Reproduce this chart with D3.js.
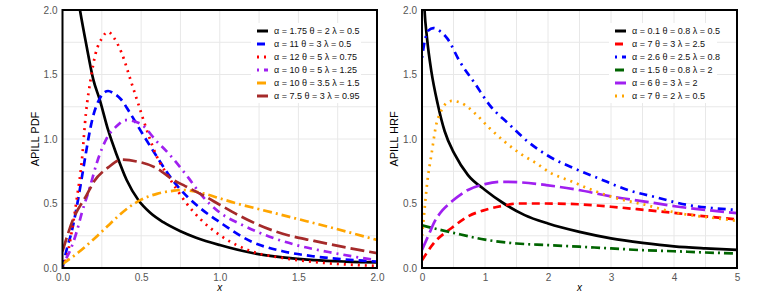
<!DOCTYPE html>
<html>
<head>
<meta charset="utf-8">
<script src="https://cdn.jsdelivr.net/npm/d3@7"></script>
<style>
  body { margin: 0; background: #fff; }
  svg { display: block; font-family: "Liberation Sans", Arial, sans-serif; }
  .grid line { stroke: #e8e8e8; stroke-width: 1; }
  .tick text { fill: #555; font-size: 10px; }
  .legend text { font-size: 9px; fill: #111; }
</style>
</head>
<body>
<svg id="chart" width="779" height="294"></svg>
<script>
// ---- left panel (PDF) ----
var pdfBlack = [[0.1, 2.08], [0.111, 2.0], [0.15, 1.74], [0.196, 1.46], [0.238, 1.30], [0.29, 1.07], [0.345, 0.876],
    [0.408, 0.682], [0.482, 0.527], [0.556, 0.43], [0.641, 0.355], [0.75, 0.285], [0.85, 0.235], [1.0, 0.178],
    [1.2, 0.118], [1.4, 0.083], [1.6, 0.061], [1.8, 0.05], [2.0, 0.044]];
var pdfBlue = [[0, 0], [0.03, 0.16], [0.06, 0.29], [0.09, 0.47], [0.12, 0.68], [0.15, 0.9], [0.18, 1.1], [0.2, 1.2],
    [0.22, 1.27], [0.25, 1.34], [0.29, 1.372], [0.33, 1.35], [0.37, 1.31], [0.43, 1.2], [0.514, 1.03], [0.6, 0.863],
    [0.684, 0.708], [0.8, 0.545], [0.88, 0.46], [1.0, 0.355], [1.2, 0.205], [1.4, 0.13], [1.6, 0.09], [1.8, 0.066],
    [2.0, 0.05]];
var pdfRed = [[0, 0], [0.03, 0.1], [0.06, 0.29], [0.09, 0.53], [0.122, 0.82], [0.149, 1.2], [0.18, 1.47], [0.21, 1.66],
    [0.25, 1.78], [0.29, 1.83], [0.33, 1.78], [0.375, 1.67], [0.44, 1.43], [0.48, 1.28], [0.514, 1.15], [0.556, 1.0],
    [0.6, 0.863], [0.663, 0.73], [0.726, 0.61], [0.78, 0.515], [0.88, 0.375], [1.0, 0.255], [1.2, 0.13], [1.4, 0.078],
    [1.6, 0.046], [1.8, 0.028], [2.0, 0.016]];
var pdfPurple = [[0, 0.03], [0.05, 0.14], [0.09, 0.28], [0.122, 0.424], [0.175, 0.63], [0.217, 0.81], [0.281, 1.005],
    [0.345, 1.10], [0.4, 1.147], [0.493, 1.12], [0.6, 0.98], [0.673, 0.89], [0.8, 0.70], [0.88, 0.57], [1.0, 0.43],
    [1.14, 0.335], [1.29, 0.255], [1.48, 0.18], [1.73, 0.115], [2.0, 0.06]];
var pdfOrange = [[0, 0.03], [0.1, 0.12], [0.2, 0.225], [0.3, 0.34], [0.4, 0.45], [0.5, 0.53], [0.6, 0.575],
    [0.7, 0.598], [0.76, 0.605], [0.82, 0.598], [0.9, 0.577], [1.0, 0.54], [1.1, 0.503], [1.27, 0.45], [1.48, 0.385],
    [1.73, 0.307], [2.0, 0.217]];
var pdfBrown = [[0, 0.13], [0.07, 0.385], [0.154, 0.566], [0.2, 0.67], [0.291, 0.78], [0.376, 0.84], [0.472, 0.826],
    [0.6, 0.773], [0.705, 0.682], [0.78, 0.635], [0.9, 0.56], [1.0, 0.49], [1.2, 0.36], [1.4, 0.265], [1.6, 0.21],
    [1.8, 0.16], [2.0, 0.115]];

// ---- right panel (HRF) ----
var hrfBlack = [[0.03, 2.1], [0.04, 2.0], [0.08, 1.78], [0.15, 1.52], [0.25, 1.27], [0.36, 1.06], [0.52, 0.88], [0.73, 0.72],
    [1.0, 0.605], [1.3, 0.50], [1.63, 0.41], [2.0, 0.345], [2.5, 0.28], [3.0, 0.23], [3.5, 0.195], [4.0, 0.168],
    [4.5, 0.152], [5.0, 0.14]];
var hrfRed = [[0, 0.06], [0.2, 0.20], [0.47, 0.31], [0.73, 0.40], [1.0, 0.45], [1.26, 0.48], [1.52, 0.50], [1.97, 0.50],
    [2.48, 0.494], [3.0, 0.475], [3.54, 0.45], [4.07, 0.424], [4.5, 0.40], [5.0, 0.377]];
var hrfBlue = [[0, 1.63], [0.04, 1.75], [0.1, 1.84], [0.18, 1.86], [0.3, 1.83], [0.4, 1.78], [0.6, 1.60], [0.84, 1.43],
    [1.07, 1.265], [1.37, 1.12], [1.68, 0.98], [2.0, 0.87], [2.4, 0.775], [2.8, 0.695], [3.3, 0.60], [3.7, 0.55],
    [4.2, 0.49], [4.6, 0.465], [5.0, 0.45]];
var hrfGreen = [[0, 0.33], [0.25, 0.30], [0.5, 0.272], [1.0, 0.22], [1.5, 0.19], [2.0, 0.178], [2.5, 0.165], [3.0, 0.152],
    [3.5, 0.138], [4.0, 0.13], [4.5, 0.12], [5.0, 0.113]];
var hrfPurple = [[0, 0.14], [0.1, 0.25], [0.2, 0.36], [0.33, 0.45], [0.47, 0.515], [0.73, 0.605], [1.0, 0.65], [1.26, 0.668],
    [1.52, 0.665], [1.97, 0.643], [2.48, 0.605], [3.0, 0.555], [3.54, 0.515], [4.07, 0.475], [4.5, 0.45], [5.0, 0.425]];
var hrfOrange = [[0, 0.25], [0.03, 0.4], [0.055, 0.53], [0.085, 0.67], [0.15, 0.88], [0.23, 1.12], [0.28, 1.19], [0.36, 1.265],
    [0.47, 1.295], [0.62, 1.28], [0.86, 1.19], [1.07, 1.085], [1.31, 0.98], [1.55, 0.89], [1.82, 0.81], [2.03, 0.74],
    [2.38, 0.67], [2.75, 0.595], [3.06, 0.545], [3.54, 0.49], [4.07, 0.425], [4.6, 0.39], [5.0, 0.365]];

var pdfLabels = ['α = 1.75 θ = 2 λ = 0.5', 'α = 11 θ = 3 λ = 0.5', 'α = 12 θ = 5 λ = 0.75',
    'α = 10 θ = 5 λ = 1.25', 'α = 10 θ = 3.5 λ = 1.5', 'α = 7.5 θ = 3 λ = 0.95'];
var hrfLabels = ['α = 0.1 θ = 0.8 λ = 0.5', 'α = 7 θ = 3 λ = 2.5', 'α = 2.6 θ = 2.5 λ = 0.8',
    'α = 1.5 θ = 0.8 λ = 2', 'α = 6 θ = 3 λ = 2', 'α = 7 θ = 2 λ = 0.5'];

var pdfXTicks = [0, 0.5, 1.0, 1.5, 2.0];
var hrfXTicks = [0, 1, 2, 3, 4, 5];
var yTicks = [0, 0.5, 1.0, 1.5, 2.0];

// line styles
var dash = {
    solid: null,
    dashed: '8 5',
    dotted: '2 5',
    dotdash: '2 5 8 5',
    longdash: '14 5',
    twodash: '9 4 2 4'
};

var svg = d3.select('#chart');

function drawPanel(o) {
    var x = d3.scaleLinear().domain(o.xDomain).range([o.left, o.right]);
    var y = d3.scaleLinear().domain([0, 2]).range([268, 10]);
    var g = svg.append('g').attr('class', o.id);

    // grid
    var grid = g.append('g').attr('class', 'grid');
    grid.selectAll('.gx').data(d3.range(o.xDomain[0], o.xDomain[1] + 1e-9, o.xGridStep)).enter()
        .append('line').attr('x1', x).attr('x2', x).attr('y1', 10).attr('y2', 268);
    grid.selectAll('.gy').data(d3.range(0, 2 + 1e-9, 0.25)).enter()
        .append('line').attr('y1', y).attr('y2', y).attr('x1', o.left).attr('x2', o.right);

    // curves
    var clipId = o.id + '-clip';
    g.append('clipPath').attr('id', clipId).append('rect')
        .attr('x', o.left).attr('y', 10).attr('width', o.right - o.left).attr('height', 258);
    var line = d3.line().x(function(d) { return x(d[0]); }).y(function(d) { return y(d[1]); })
        .curve(d3.curveMonotoneX);
    var curves = g.append('g').attr('clip-path', 'url(#' + clipId + ')');
    curves.selectAll('path').data(o.series).enter().append('path')
        .attr('d', function(d) { return line(d.data); })
        .attr('fill', 'none')
        .attr('stroke', function(d) { return d.color; })
        .attr('stroke-width', 2.7)
        .attr('stroke-dasharray', function(d) { return dash[d.lty]; });

    // axes
    g.append('g').attr('transform', 'translate(0,268)')
        .call(d3.axisBottom(x).tickValues(o.xTicks).tickSize(0).tickPadding(6).tickFormat(o.xFormat))
        .call(function(a) { a.select('.domain').remove(); });
    g.append('g').attr('transform', 'translate(' + o.left + ',0)')
        .call(d3.axisLeft(y).tickValues(yTicks).tickSize(0).tickPadding(5).tickFormat(d3.format('.1f')))
        .call(function(a) { a.select('.domain').remove(); });
    g.selectAll('.tick text').attr('font-family', null).attr('font-size', null);

    g.append('text').attr('x', (o.left + o.right) / 2).attr('y', 291)
        .attr('text-anchor', 'middle').attr('font-size', 10).attr('font-style', 'italic').text('x');
    g.append('text').attr('transform', 'translate(' + (o.left - 24) + ',139) rotate(-90)')
        .attr('text-anchor', 'middle').attr('font-size', 11).text(o.yTitle);

    // frame
    g.append('rect').attr('x', o.left).attr('y', 10).attr('width', o.right - o.left).attr('height', 258)
        .attr('fill', 'none').attr('stroke', '#000').attr('stroke-width', 2);

    // legend
    var lg = g.append('g').attr('class', 'legend');
    lg.append('rect').attr('x', o.legendX - 6).attr('y', 23).attr('width', o.legendW).attr('height', 80)
        .attr('fill', '#fff');
    var items = lg.selectAll('.item').data(o.series).enter().append('g')
        .attr('transform', function(d, i) { return 'translate(' + o.legendX + ',' + (31 + i * 13) + ')'; });
    items.append('line').attr('x1', 0).attr('x2', 11).attr('y1', 0).attr('y2', 0)
        .attr('stroke', function(d) { return d.color; }).attr('stroke-width', 3)
        .attr('stroke-dasharray', function(d) { return dash[d.lty]; });
    items.append('text').attr('x', 17).attr('y', 3.2).text(function(d) { return d.label; });
}

drawPanel({
    id: 'pdf', left: 62.5, right: 377, xDomain: [0, 2], xGridStep: 0.25, xTicks: pdfXTicks,
    xFormat: d3.format('.1f'), yTitle: 'APILL PDF', legendX: 257, legendW: 110,
    series: [
        { data: pdfBlack, color: '#000000', lty: 'solid', label: pdfLabels[0] },
        { data: pdfBlue, color: '#0000ff', lty: 'dashed', label: pdfLabels[1] },
        { data: pdfRed, color: '#ff0000', lty: 'dotted', label: pdfLabels[2] },
        { data: pdfPurple, color: '#a020f0', lty: 'dotdash', label: pdfLabels[3] },
        { data: pdfOrange, color: '#ffa500', lty: 'twodash', label: pdfLabels[4] },
        { data: pdfBrown, color: '#a52a2a', lty: 'longdash', label: pdfLabels[5] }
    ]
});

drawPanel({
    id: 'hrf', left: 422, right: 737, xDomain: [0, 5], xGridStep: 0.5, xTicks: hrfXTicks,
    xFormat: d3.format('d'), yTitle: 'APILL HRF', legendX: 615, legendW: 108,
    series: [
        { data: hrfBlack, color: '#000000', lty: 'solid', label: hrfLabels[0] },
        { data: hrfRed, color: '#ff0000', lty: 'dashed', label: hrfLabels[1] },
        { data: hrfBlue, color: '#0000ff', lty: 'dotdash', label: hrfLabels[2] },
        { data: hrfGreen, color: '#006400', lty: 'twodash', label: hrfLabels[3] },
        { data: hrfPurple, color: '#a020f0', lty: 'longdash', label: hrfLabels[4] },
        { data: hrfOrange, color: '#ffa500', lty: 'dotted', label: hrfLabels[5] }
    ]
});
</script>
</body>
</html>
